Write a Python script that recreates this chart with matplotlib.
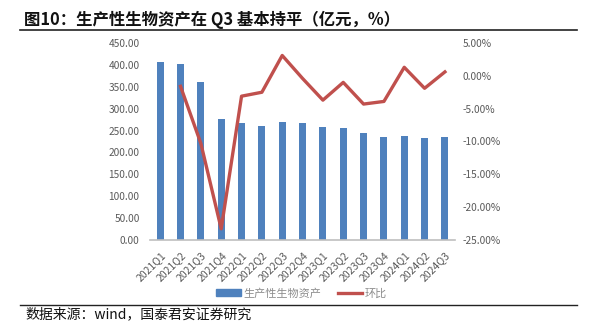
import matplotlib.pyplot as plt
from matplotlib.lines import Line2D
from matplotlib.patches import Patch
from matplotlib.ticker import FuncFormatter

plt.rcParams['font.family'] = ['Noto Sans CJK SC', 'DejaVu Sans']

# data
quarters = ["2021Q1", "2021Q2", "2021Q3", "2021Q4", "2022Q1", "2022Q2", "2022Q3", "2022Q4",
            "2023Q1", "2023Q2", "2023Q3", "2023Q4", "2024Q1", "2024Q2", "2024Q3"]
assets = [407, 402, 360, 276, 268, 261, 269, 268, 258, 255, 244, 235, 237, 234, 236]
qoq = [None, -1.6, -10.3, -23.3, -3.1, -2.5, 3.1, -0.4, -3.7, -1.0, -4.3, -3.9, 1.3, -1.9, 0.6]

blue = "#4F81BD"
red = "#C0504D"
grey = "#595959"

fig = plt.figure(figsize=(5.97, 3.24), dpi=100)
ax = fig.add_axes([0.2513, 0.2593, 0.511, 0.608])
ax2 = ax.twinx()

x = list(range(len(quarters)))
ax.bar(x, assets, width=0.35, color=blue, zorder=2)
xs = [i for i, v in zip(x, qoq) if v is not None]
ys = [v for v in qoq if v is not None]
ax2.plot(xs, ys, color=red, lw=2.4, zorder=3)

ax.set_xlim(-0.5, len(quarters) - 0.5)
ax.set_ylim(0, 450)
ax.set_yticks(range(0, 451, 50))
ax.yaxis.set_major_formatter(FuncFormatter(lambda v, p: f"{v:.2f}"))
ax2.set_ylim(-25, 5)
ax2.set_yticks(range(-25, 6, 5))
ax2.yaxis.set_major_formatter(FuncFormatter(lambda v, p: f"{v:.2f}%"))

for a in (ax, ax2):
    for s in a.spines.values():
        s.set_visible(False)
    a.tick_params(axis="y", length=0, labelsize=7.3, labelcolor=grey)
ax.spines["bottom"].set_visible(True)
ax.spines["bottom"].set_color("#BFBFBF")
ax.spines["bottom"].set_linewidth(1.2)
ax.tick_params(axis="y", pad=7.5)
ax2.tick_params(axis="y", pad=5.5)

ax.set_xticks(x)
ax.set_xticklabels(quarters, rotation=45, ha="right", rotation_mode="anchor",
                   fontsize=7.5, color=grey)
ax.tick_params(axis="x", length=0, pad=7)

handles = [Patch(color=blue, label="生产性生物资产"),
           Line2D([], [], color=red, lw=2.4, label="环比")]
fig.legend(handles=handles, loc="center", bbox_to_anchor=(0.505, 0.095), ncol=2,
           frameon=False, fontsize=8, labelcolor="#8C8C8C", handlelength=2.2,
           handleheight=0.5, columnspacing=1.5, handletextpad=0.2)

fig.text(0.04, 0.94, "图10：生产性生物资产在 Q3 基本持平（亿元，%）", fontsize=11.8,
         fontweight="bold", va="center", ha="left", color="#111111")
fig.add_artist(Line2D([0.034, 0.967], [0.907, 0.907], color="#222222", lw=1.2))
fig.add_artist(Line2D([0.034, 0.967], [0.059, 0.059], color="#222222", lw=1.0))
fig.text(0.042, 0.03, "数据来源：wind，国泰君安证券研究", fontsize=10,
         va="center", ha="left", color="#111111")

fig.savefig("out.png", dpi=100)
